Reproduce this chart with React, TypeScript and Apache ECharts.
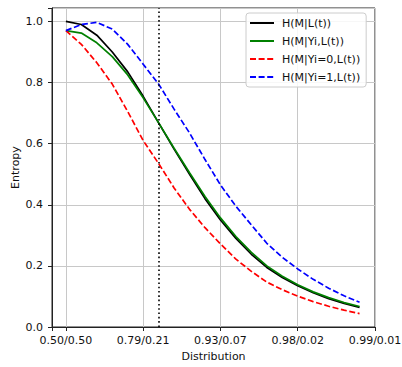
import React, { useEffect, useRef } from "react";
import * as echarts from "echarts";

// x positions are step indices 0..19; tick labels show the class distribution
const TICK_POSITIONS = [0, 5, 10, 15, 20];
const TICK_LABELS = ["0.50/0.50", "0.79/0.21", "0.93/0.07", "0.98/0.02", "0.99/0.01"];
const THRESHOLD = 6;

const SERIES_NAMES = ["H(M|L(t))", "H(M|Yi,L(t))", "H(M|Yi=0,L(t))", "H(M|Yi=1,L(t))"];

const H_M_L = [1.0, 0.99, 0.955, 0.9, 0.835, 0.755, 0.668, 0.582, 0.5, 0.42, 0.35, 0.29, 0.238, 0.195, 0.162, 0.135, 0.112, 0.093, 0.077, 0.064];
const H_M_YI_L = [0.97, 0.962, 0.93, 0.885, 0.825, 0.75, 0.668, 0.585, 0.505, 0.427, 0.357, 0.296, 0.244, 0.2, 0.166, 0.138, 0.115, 0.096, 0.08, 0.067];
const H_M_YI0_L = [0.97, 0.925, 0.865, 0.795, 0.705, 0.61, 0.535, 0.455, 0.385, 0.325, 0.272, 0.222, 0.182, 0.147, 0.122, 0.101, 0.083, 0.068, 0.055, 0.044];
const H_M_YI1_L = [0.97, 0.99, 0.997, 0.975, 0.925, 0.86, 0.795, 0.713, 0.635, 0.548, 0.465, 0.395, 0.334, 0.274, 0.228, 0.19, 0.156, 0.127, 0.102, 0.081];

const FONT = "DejaVu Sans";

export default function App() {
  const ref = useRef<HTMLDivElement>(null);
  useEffect(() => {
    if (!ref.current) return;
    const chart = echarts.init(ref.current, null, { renderer: "svg" });
    const toPairs = (arr: number[]) => arr.map((v, i) => [i, v]);
    const dash = [6, 2.6];
    chart.setOption({
      animation: false,
      backgroundColor: "#fff",
      grid: {
        left: 52,
        right: 27,
        top: 8,
        bottom: 40,
        outerBoundsMode: "none",
        containLabel: false,
        show: true,
        borderColor: "#222",
        borderWidth: 1,
        backgroundColor: "transparent",
      },
      legend: {
        orient: "vertical",
        left: 246,
        top: 13,
        padding: [3, 6, 3, 3],
        itemWidth: 24,
        itemHeight: 10,
        itemGap: 4,
        backgroundColor: "rgba(255,255,255,0.85)",
        borderColor: "#cccccc",
        borderWidth: 1,
        borderRadius: 3,
        itemStyle: { opacity: 0, borderWidth: 0 },
        textStyle: { fontFamily: FONT, fontSize: 11, color: "#111", lineHeight: 14, padding: [0, 0, 0, 3] },
        data: SERIES_NAMES,
      },
      xAxis: {
        type: "value",
        min: -0.9,
        max: 20,
        name: "Distribution",
        nameLocation: "middle",
        nameGap: 24,
        nameMoveOverlap: false,
        nameTextStyle: { fontFamily: FONT, fontSize: 11, color: "#111" },
        axisLine: { show: true, onZero: false, lineStyle: { color: "#222", width: 1 } },
        axisTick: { show: true, length: 4, lineStyle: { color: "#222" } },
        axisLabel: {
          fontFamily: FONT,
          fontSize: 11,
          color: "#111",
          margin: 8,
          showMinLabel: true,
          showMaxLabel: true,
          hideOverlap: false,
          formatter: (v: number) => {
            const k = TICK_POSITIONS.findIndex((p) => Math.abs(p - v) < 1e-6);
            return k >= 0 ? TICK_LABELS[k] : "";
          },
        },
        splitLine: { show: true, lineStyle: { color: "#c8c8c8", width: 1 } },
      },
      yAxis: {
        type: "value",
        min: 0,
        max: 1.044,
        name: "Entropy",
        nameLocation: "middle",
        nameGap: 31,
        nameMoveOverlap: false,
        nameTextStyle: { fontFamily: FONT, fontSize: 11, color: "#111" },
        axisLine: { show: true, onZero: false, lineStyle: { color: "#222", width: 1 } },
        axisTick: { show: true, length: 4, lineStyle: { color: "#222" } },
        axisLabel: {
          fontFamily: FONT,
          fontSize: 11,
          color: "#111",
          margin: 9,
          formatter: (v: number) => {
            const r = Math.round(v / 0.2) * 0.2;
            return Math.abs(r - v) < 1e-6 ? r.toFixed(1) : "";
          },
        },
        splitLine: { show: true, lineStyle: { color: "#c8c8c8", width: 1 } },
      },
      series: [
        {
          name: SERIES_NAMES[0],
          type: "line",
          data: toPairs(H_M_L),
          showSymbol: false,
          symbol: "none",
          lineStyle: { color: "#000", width: 1.7 },
          itemStyle: { color: "#000" },
        },
        {
          name: SERIES_NAMES[1],
          type: "line",
          data: toPairs(H_M_YI_L),
          showSymbol: false,
          symbol: "none",
          lineStyle: { color: "#008000", width: 1.7 },
          itemStyle: { color: "#008000" },
        },
        {
          name: SERIES_NAMES[2],
          type: "line",
          data: toPairs(H_M_YI0_L),
          showSymbol: false,
          symbol: "none",
          lineStyle: { color: "#ff0000", width: 1.7, type: dash },
          itemStyle: { color: "#ff0000" },
        },
        {
          name: SERIES_NAMES[3],
          type: "line",
          data: toPairs(H_M_YI1_L),
          showSymbol: false,
          symbol: "none",
          lineStyle: { color: "#0000ff", width: 1.7, type: dash },
          itemStyle: { color: "#0000ff" },
          markLine: {
            silent: true,
            symbol: ["none", "none"],
            label: { show: false },
            lineStyle: { color: "#000", width: 1.6, type: [1.6, 2.7] },
            data: [{ xAxis: THRESHOLD }],
          },
        },
      ],
    });
    return () => chart.dispose();
  }, []);
  return (
    <div
      ref={ref}
      style={{ position: "fixed", left: 0, top: 0, width: 402, height: 367 }}
    />
  );
}
